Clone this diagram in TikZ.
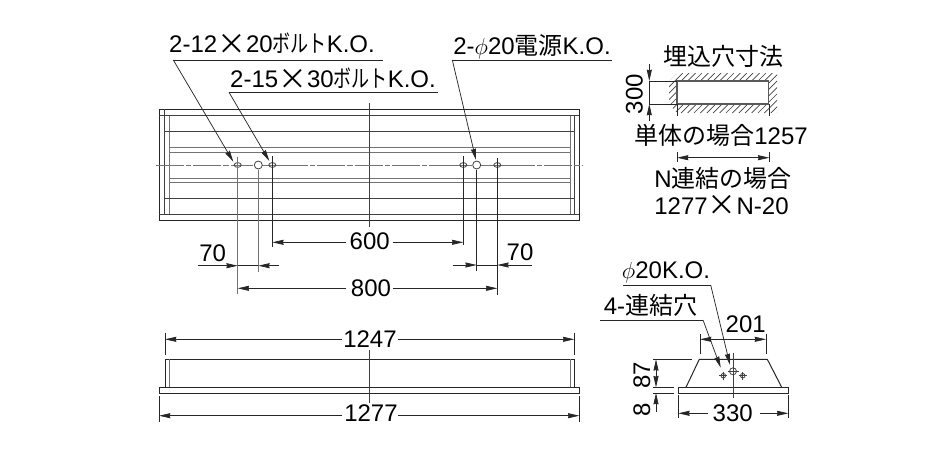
\documentclass[tikz,border=0pt]{standalone}
\usepackage{xcolor}
\usepackage{graphicx}
\usepackage{fontspec}
\setmainfont{Liberation Sans}
\newfontfamily\cjk{Noto Sans CJK JP}
\newfontfamily\cjkn[FakeStretch=0.75]{Noto Sans CJK JP}
\usetikzlibrary{arrows.meta}
\newcommand{\phisym}{$\phi$}
\newcommand{\timessym}{\raisebox{-1.4pt}{\scalebox{1.2}{\cjk ×}}}
\tikzset{
  lbl/.style={font=\fontsize{18}{20}\selectfont, inner sep=0pt, anchor=base},
  lblv/.style={lbl, rotate=90},
  edge/.style={line width=0.75pt, black!85},
  thin edge/.style={line width=0.6pt, black!75},
  double edge/.style={line width=0.6pt, black!55},
  dim/.style={line width=0.55pt, black!85},
  tip/.style={-{Stealth[length=8.5pt, width=3.8pt, inset=0.5pt]}},
  tips/.style={{Stealth[length=8.5pt, width=3.8pt, inset=0.5pt]}-{Stealth[length=8.5pt, width=3.8pt, inset=0.5pt]}},
  hatch/.style={line width=0.5pt, black!75}
}
\begin{document}
\begin{tikzpicture}[x=0.75pt, y=-0.75pt]
\useasboundingbox (0,0) rectangle (945,472);

% Top view
\draw[edge] (159,109) rectangle (579.3,220);
\draw[thin edge] (159,115.7) -- (579.3,115.7);
\draw[thin edge] (159,214.3) -- (579.3,214.3);
\draw[thin edge] (164.3,109) -- (164.3,214.3);
\draw[double edge] (169,115.7) -- (169,214.3);
\draw[thin edge] (574.3,115.7) -- (574.3,214.3);
\draw[double edge] (570,115.7) -- (570,214.3);
\foreach \yy in {131.3,198.3}
  \draw[thin edge] (164.3,\yy) -- (574.3,\yy);
\foreach \yy in {147.3,152,178,182.3}
  \draw[double edge] (169,\yy) -- (570,\yy);
\draw[thin edge] (369.7,103) -- (369.7,226.7);

% Centre line
\foreach \xa/\xb in {156/243,280/453,507/583}
  \draw[double edge, dash pattern=on 21pt off 1.5pt on 4pt off 1.5pt] (\xa,165) -- (\xb,165);
\foreach \xa/\xb in {243/253,262/280,453/472,481/507}
  \draw[double edge] (\xa,165) -- (\xb,165);

% Holes
\foreach \xx in {237.7,272.3,463.3,497.3}
  \draw[thin edge] (\xx,165) ellipse (3.5 and 2.4);
\foreach \xx in {258.3,476.7}
  \draw[thin edge] (\xx,165) circle (4);

% Labels with leaders
\node[lbl] (bolt1) at (272,52.7) {2-12\timessym 20{\cjkn ボルト}K.O.};
\draw[dim] (383,60) -- (173.3,60);
\draw[dim, tip] (173.3,60) -- (233.3,161.7);
\node[lbl] (bolt2) at (333,87.3) {2-15\timessym 30{\cjkn ボルト}K.O.};
\draw[dim] (438,92.3) -- (229,92.3);
\draw[dim, tip] (229,92.3) -- (269.3,161);
\node[lbl] (power) at (532,54) {2-\phisym 20{\cjk 電源}K.O.};
\draw[dim] (612,60) -- (452.3,60);
\draw[dim, tip] (452.3,60) -- (476,160);

% Extension lines
\draw[double edge] (237.7,157) -- (237.7,294);
\draw[double edge] (258.3,170) -- (258.3,271.7);
\draw[dim] (272.3,156) -- (272.3,246.7);
\draw[dim] (463.3,156) -- (463.3,245);
\draw[dim] (476.7,170) -- (476.7,270.7);
\draw[dim] (497.3,158) -- (497.3,295);

% Dimensions under top view
\node[lbl] (d600) at (369.7,249.3) {600};
\draw[dim, tip] (346,242.3) -- (272.3,242.3);
\draw[dim, tip] (393,242.3) -- (463.3,242.3);
\node[lbl] (d800) at (371,296.7) {800};
\draw[dim, tip] (346,288.3) -- (237.7,288.3);
\draw[dim, tip] (393,288.3) -- (497.3,288.3);
\node[lbl] (d70a) at (212.7,261) {70};
\draw[dim, tip] (197.7,265.7) -- (237.7,265.7);
\draw[dim] (237.7,265.7) -- (258.3,265.7);
\draw[dim, tip] (279,265.7) -- (258.3,265.7);
\node[lbl] (d70b) at (520,260.7) {70};
\draw[dim, tip] (452.7,265) -- (476.7,265);
\draw[dim] (476.7,265) -- (497.3,265);
\draw[dim, tip] (531.7,265) -- (497.3,265);

% Front view
\draw[edge] (165,387.7) -- (165,359.3) -- (574.3,359.3) -- (574.3,387.7);
\draw[double edge] (169.3,359.3) -- (169.3,387.7);
\draw[double edge] (570.7,359.3) -- (570.7,387.7);
\draw[edge] (159,387.7) rectangle (579.3,393.3);
\draw[thin edge] (369.7,350) -- (369.7,403);
\draw[dim] (165,332.7) -- (165,355);
\draw[dim] (574.3,332.7) -- (574.3,355);
\draw[dim] (159,396) -- (159,421.7);
\draw[dim] (579.3,396) -- (579.3,421.7);
\node[lbl] (d1247) at (370,347) {1247};
\draw[dim, tip] (342,339.3) -- (165,339.3);
\draw[dim, tip] (398,339.3) -- (574.3,339.3);
\node[lbl] (d1277) at (371,421) {1277};
\draw[dim, tip] (342,415.7) -- (159,415.7);
\draw[dim, tip] (398,415.7) -- (579.3,415.7);

% Ceiling opening
\node[lbl] (openTitle) at (723,65) {\cjk 埋込穴寸法};
\begin{scope}
  \clip (669,81) -- (677,73) -- (777,73) -- (777,113) -- (677,113) -- (669,104) -- cycle;
  \foreach \xx in {630,636.4,...,780}
    \draw[hatch] (\xx,113) -- (\xx+40,73);
\end{scope}
\draw[line width=0.9pt, black!65, fill=white] (677,81) rectangle (768.3,104);
\draw[dim] (649.3,81) -- (677,81);
\draw[dim] (649.3,104) -- (677,104);
\draw[dim] (677,104) -- (677,116);
\draw[dim] (769,104) -- (769,116);
\draw[dim, tip] (649.3,64) -- (649.3,81);
\draw[dim, tip] (649.3,121) -- (649.3,104);
\draw[dim] (649.3,81) -- (649.3,104);
\node[lblv] (d300) at (642.7,94.3) {300};
\node[lbl] (single) at (721,144.3) {{\cjk 単体の場合}1257};
\draw[dim] (677,152) -- (677,162);
\draw[dim] (769.3,152) -- (769.3,162);
\draw[dim, tips] (677,157.7) -- (769.3,157.7);
\node[lbl] (linked) at (723,187.7) {N{\cjk 連結の場合}};
\node[lbl] (linkedSize) at (721.5,214) {1277\timessym N-20};

% End view
\draw[edge] (686,387.3) -- (699.3,359.3) -- (767.3,359.3) -- (781.7,387.3);
\draw[edge] (678.3,387.3) rectangle (788.3,393);
\draw[thin edge] (733,352.7) -- (733,397.7);
\draw[thin edge] (733,371.3) circle (3.5);
\draw[thin edge] (727.5,371.3) -- (738.5,371.3);
\foreach \xx in {723.3,742.7} {
  \draw[thin edge] (\xx,375.7) circle (2.3);
  \draw[thin edge] (\xx-4,375.7) -- (\xx+4,375.7);
  \draw[thin edge] (\xx,371.7) -- (\xx,379.7);
}
\node[lbl] (koEnd) at (666,278.3) {\phisym 20K.O.};
\draw[dim] (623,285) -- (710.7,285);
\draw[dim, tip] (710.7,285) -- (730,365);
\node[lbl] (link4) at (650.5,314.3) {4-{\cjk 連結穴}};
\draw[dim] (600,320) -- (703,320);
\draw[dim, tip] (703,320) -- (720.7,367.7);
\node[lbl] (d201) at (745.7,332.3) {201};
\draw[dim] (700,334) -- (700,354);
\draw[dim] (766,334) -- (766,354);
\draw[dim, tips] (700,339.3) -- (766,339.3);
\draw[dim] (653,359.3) -- (692,359.3);
\draw[dim] (653,387.3) -- (674,387.3);
\draw[dim] (653,393) -- (674,393);
\draw[dim, tips] (656,359.3) -- (656,387.3);
\draw[dim, tip] (656,412) -- (656,393);
\node[lblv] (d87) at (650,375) {87};
\node[lblv] (d8) at (650,410) {8};
\draw[dim] (678.3,395) -- (678.3,417.7);
\draw[dim] (788.3,395) -- (788.3,417.7);
\node[lbl] (d330) at (732.7,421) {330};
\draw[dim, tip] (708,413.3) -- (678.3,413.3);
\draw[dim, tip] (760,413.3) -- (788.3,413.3);
\end{tikzpicture}
\end{document}
